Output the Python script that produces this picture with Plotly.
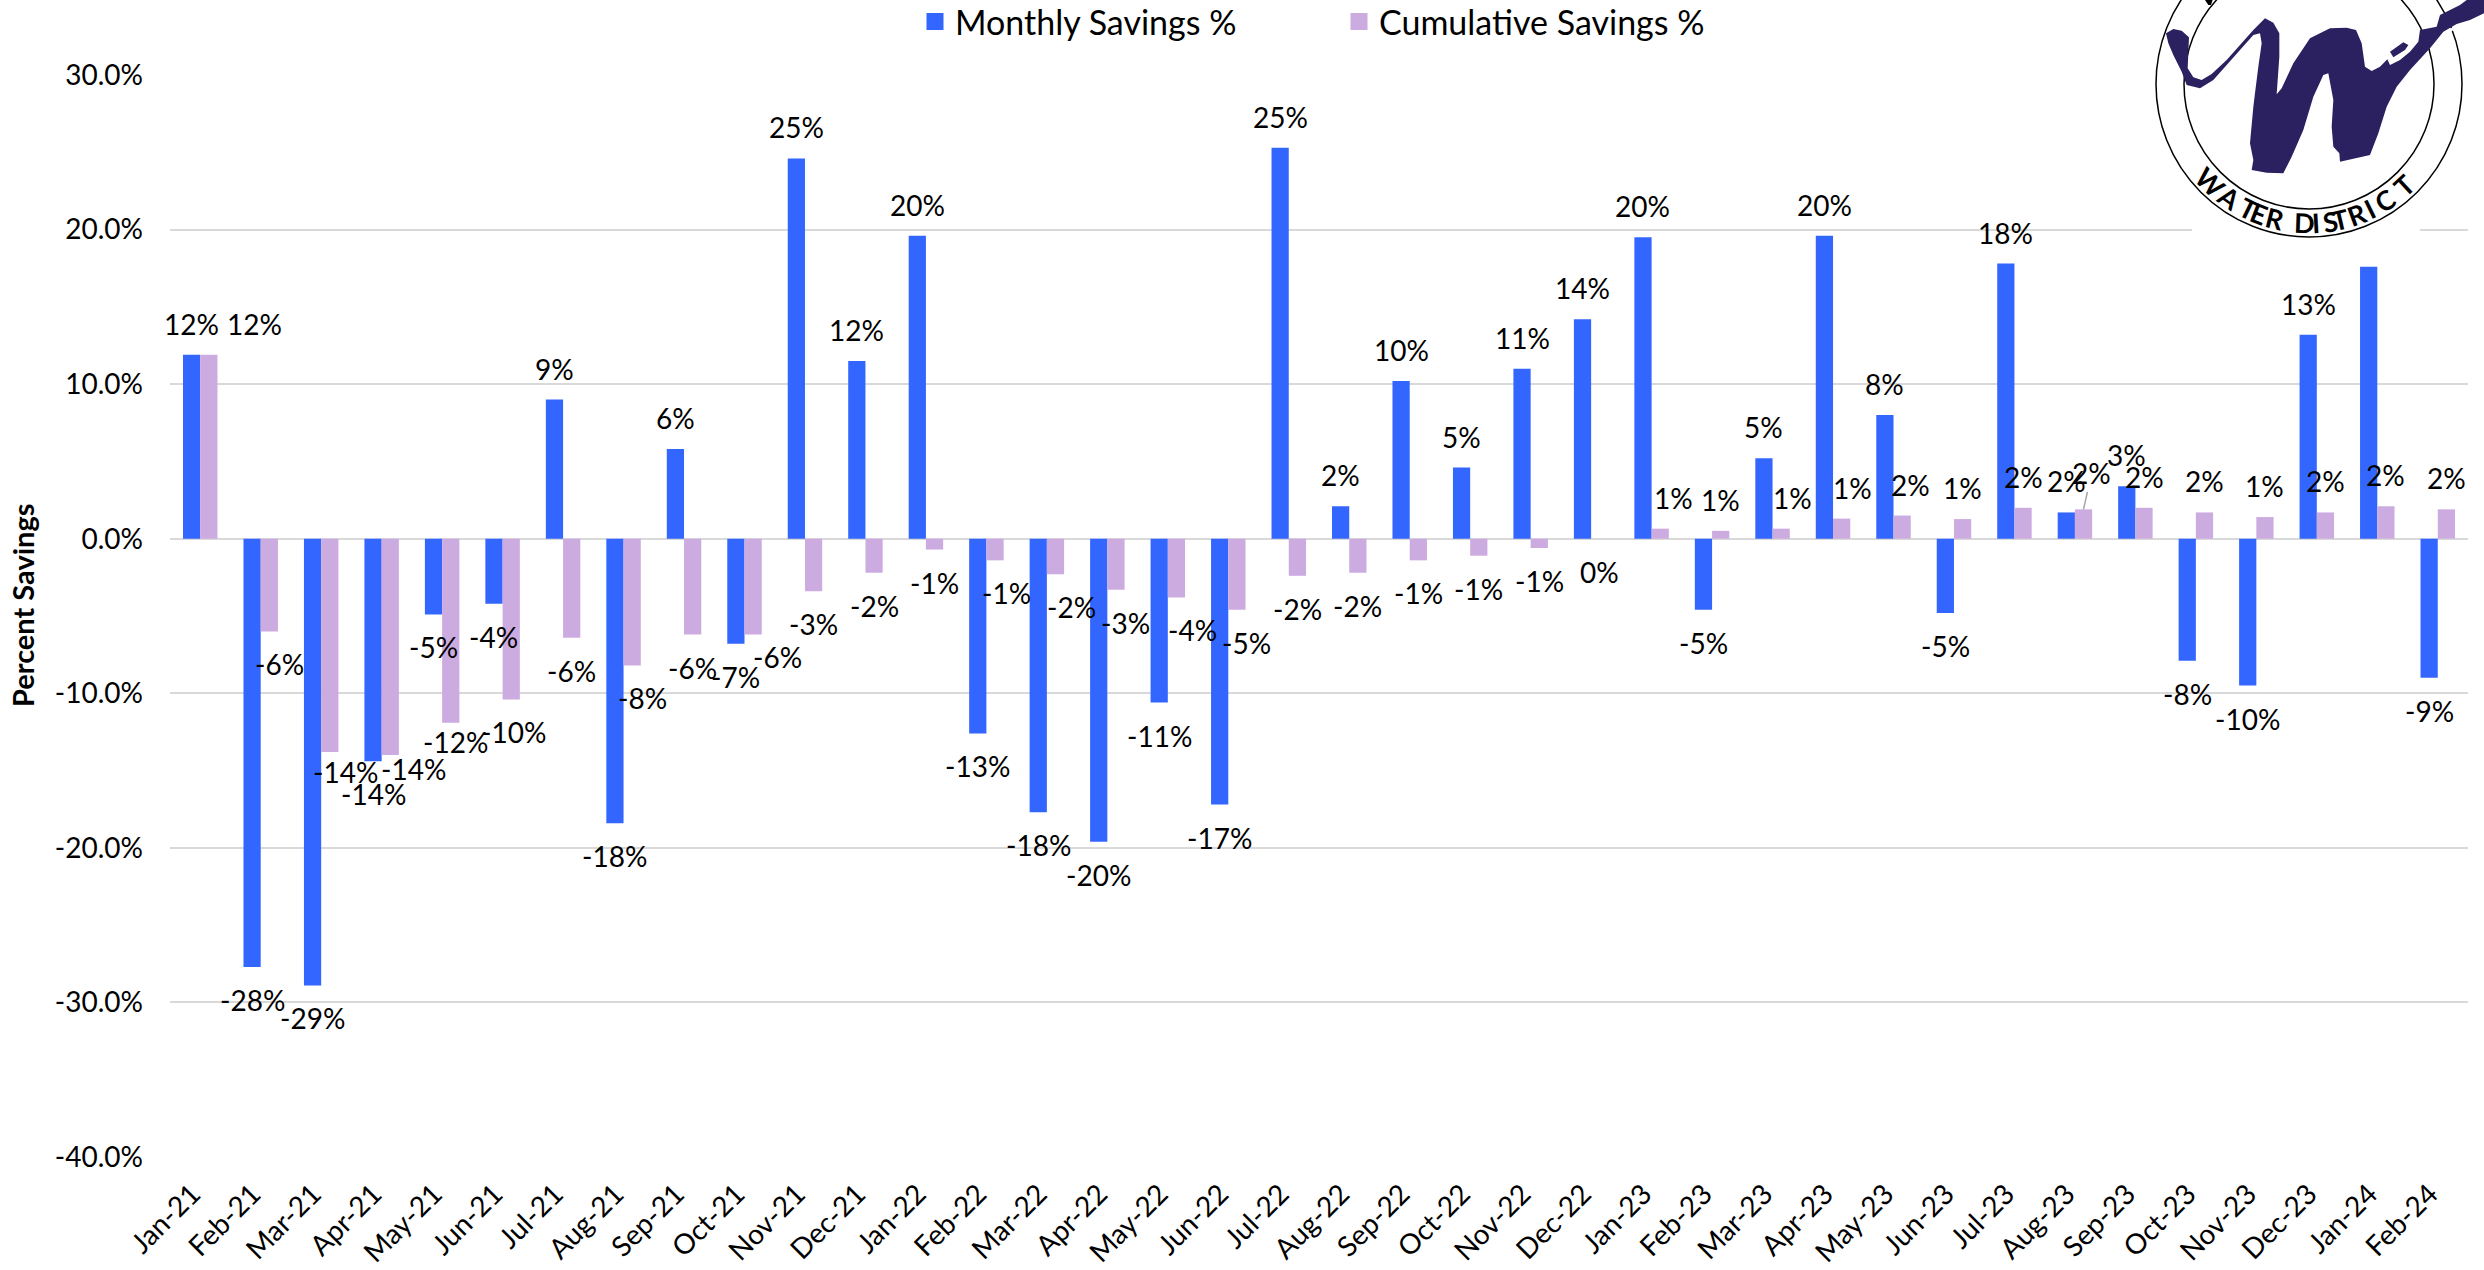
import math
import plotly.graph_objects as go

W, H = 2484, 1270
L, R, T, B = 170, 2468, 75, 1157

months = ["Jan-21","Feb-21","Mar-21","Apr-21","May-21","Jun-21","Jul-21","Aug-21","Sep-21","Oct-21","Nov-21","Dec-21",
          "Jan-22","Feb-22","Mar-22","Apr-22","May-22","Jun-22","Jul-22","Aug-22","Sep-22","Oct-22","Nov-22","Dec-22",
          "Jan-23","Feb-23","Mar-23","Apr-23","May-23","Jun-23","Jul-23","Aug-23","Sep-23","Oct-23","Nov-23","Dec-23",
          "Jan-24","Feb-24"]
monthly = [11.9,-27.7,-28.9,-14.4,-4.9,-4.2,9.0,-18.4,5.8,-6.8,24.6,11.5,
           19.6,-12.6,-17.7,-19.6,-10.6,-17.2,25.3,2.1,10.2,4.6,11.0,14.2,
           19.5,-4.6,5.2,19.6,8.0,-4.8,17.8,1.7,3.4,-7.9,-9.5,13.2,
           17.6,-9.0]
cumulative = [11.9,-6.0,-13.8,-14.0,-11.9,-10.4,-6.4,-8.2,-6.2,-6.2,-3.4,-2.2,
              -0.7,-1.4,-2.3,-3.3,-3.8,-4.6,-2.4,-2.2,-1.4,-1.1,-0.6,0.0,
              0.65,0.51,0.65,1.3,1.5,1.27,2.0,1.9,2.0,1.7,1.4,1.7,
              2.1,1.9]
yticks = [30,20,10,0,-10,-20,-30,-40]
ytick_labels = ["30.0%","20.0%","10.0%","0.0%","-10.0%","-20.0%","-30.0%","-40.0%"]
no_values = [None] * len(months)

BLUE, LILAC, INK, NAVY = "#3366FF", "#CCABE0", "#000000", "#2B2060"
FONT = "Lato"
SIZE = 28

def fmt(v):
    return f"{round(v):d}%"

fig = go.Figure()
fig.add_bar(name="Monthly Savings %", x=months, y=monthly, showlegend=False, offsetgroup="m",
            marker=dict(color=BLUE, line=dict(width=0)))
fig.add_bar(name="Cumulative Savings %", x=months, y=cumulative, showlegend=False, offsetgroup="c",
            marker=dict(color=LILAC, line=dict(width=0)))
# legend keys: empty twins in the same slots, so the swatches can be drawn larger than the default
fig.add_bar(name="Monthly Savings %", x=months, y=no_values, offsetgroup="m", marker=dict(color=BLUE, line=dict(width=5, color=BLUE)))
fig.add_bar(name="Cumulative Savings %", x=months, y=no_values, offsetgroup="c", marker=dict(color=LILAC, line=dict(width=5, color=LILAC)))

# hand-placed label nudges (px) relative to the default outside-end spot
nudge = {
    ("c", 0): (46, 0),
    ("c", 1): (10, 0),
    ("c", 2): (16, -13),
    ("c", 3): (23, -19),
    ("c", 4): (5, -14),
    ("c", 5): (2, 0),
    ("c", 7): (10, 0),
    ("c", 9): (24, -11),
    ("c", 13): (11, 0),
    ("c", 14): (16, 0),
    ("c", 15): (10, 0),
    ("c", 16): (16, 0),
    ("c", 17): (10, 0),
    ("c", 24): (13, 0),
    ("c", 26): (11, 0),
    ("c", 27): (11, 0),
    ("c", 28): (8, 0),
}
hidden = {("m", months.index("Jan-24"))}  # sits behind the logo's white backing in the reference
SLOT = (R - L) / 38 * 0.285
ann = []
for key, vals in (("m", monthly), ("c", cumulative)):
    for i, v in enumerate(vals):
        if (key, i) in hidden:
            continue
        dx, dy = nudge.get((key, i), (0, 0))
        base = -31 if v > 0 else 33
        off = -SLOT * 0.5 if key == "m" else SLOT * 0.5
        item = dict(x=months[i], y=v, xref="x", yref="y", text=fmt(v), showarrow=False,
                    xshift=off + dx, yshift=-(base + dy), xanchor="center", yanchor="middle",
                    font=dict(family=FONT, size=SIZE, color=INK))
        # Aug-23 cumulative label sits off its bar with a leader line
        if key == "c" and months[i] == "Aug-23":
            item.update(showarrow=True, arrowhead=0, arrowwidth=1.5, arrowcolor="#A6A6A6", ax=8, ay=-36,
                        axref="pixel", ayref="pixel", xshift=off, yshift=0)
        ann.append(item)

ann.append(dict(text="Percent Savings", xref="paper", yref="paper", x=(22 - L) / (R - L), y=(B - 605) / (B - T),
                showarrow=False, textangle=-90, xanchor="center", yanchor="middle",
                font=dict(family=FONT, size=29, color=INK, weight="bold")))

def px(x, y):
    return (x - L) / (R - L), (B - y) / (B - T)

def rect(x0, y0, x1, y1):
    a, b = px(x0, y0)
    c, d = px(x1, y1)
    return dict(type="rect", xref="paper", yref="paper", x0=a, y0=b, x1=c, y1=d,
                fillcolor="white", line=dict(width=0), layer="above")

def circle(cx, cy, r):
    a, b = px(cx - r, cy + r)
    c, d = px(cx + r, cy - r)
    return dict(type="circle", xref="paper", yref="paper", x0=a, y0=b, x1=c, y1=d,
                line=dict(color="black", width=1.5), layer="above")

def crop(points, ox, scale=3):
    return [(ox + x / scale, y / scale) for x, y in points]

def traced(outline, fill):
    pts = [px(x, y) for x, y in outline]
    return dict(type="path", path="M" + "L".join(f"{x:.5f},{y:.5f}" for x, y in pts) + "Z",
                xref="paper", yref="paper", fillcolor=fill, line=dict(width=0), layer="above")

LEFT, MID, RIGHT = 2150, 2100, 2330
w_upper_left = [(48,100),(70,87),(95,92),(117,112),(115,160),(113,205),(130,232),(155,240),(185,222),(230,180),(270,135),
                (310,90),(345,55),(370,68),(388,100),(388,170),(380,283),(395,265),(430,190),(480,115)]
w_coast = [(0,85),(50,83),(78,90),(95,130),(105,200),(125,213),(150,200),(172,178),(180,195),(210,180),(240,155),(265,125),
           (270,90),(320,80),(330,45),(390,15),(410,0),(462,0),(462,40),(420,60),(380,72),(340,95),(300,145),(240,210),
           (200,260),(170,320)]
w_bottom = [(835,400),(810,465),(720,485),(718,460),(700,440),(695,380),(700,300),(685,220),(670,225),(640,290),(610,390),
            (575,470),(550,520),(500,518),(455,510),(460,480),(450,430),(460,320)]
w_lower_left = [(315,280),(325,200),(335,130),(330,100),(310,105),(270,150),(230,195),(190,240),(150,265),(110,255),(95,215),
                (70,165),(55,130)]
w_outline = crop(w_upper_left, LEFT) + crop(w_coast, RIGHT) + crop(w_bottom, MID) + crop(w_lower_left, LEFT)
island = crop([(180,155),(220,127),(235,135),(225,150),(190,172)], RIGHT)
lagoon = crop([(355,88),(380,78),(380,85),(362,95)], RIGHT)
top_letter = crop([(165,0),(188,0),(183,15),(175,15)], LEFT)

shapes = [
    rect(2140, 0, 2484, 200),
    rect(2192, 200, 2420, 256),
    circle(2309, 84, 153),
    circle(2309, 84, 125),
    traced(w_outline, NAVY),
    traced(island, NAVY),
    traced(lagoon, "white"),
    traced(top_letter, "black"),
]

# "WATER DISTRICT" set letter by letter along the ring
ring = "WATERDISTRICT"
angles = [-45,-35,-26,-21,-14,-2,3,9,13,20,26,33,43]
for ch, deg in zip(ring, angles):
    t = math.radians(deg)
    x, y = px(2309 + 139 * math.sin(t), 84 + 139 * math.cos(t))
    ann.append(dict(text=ch, xref="paper", yref="paper", x=x, y=y, showarrow=False, textangle=-deg,
                    xanchor="center", yanchor="middle", font=dict(family=FONT, size=27, color="black", weight="bold")))

fig.update_layout(
    width=W, height=H, autosize=False,
    margin=dict(l=L, r=W - R, t=T, b=H - B, pad=0),
    paper_bgcolor="white", plot_bgcolor="white",
    barmode="group", bargap=0.43, bargroupgap=0,
    font=dict(family=FONT, size=SIZE, color=INK),
    showlegend=True,
    legend=dict(orientation="h", xref="container", yref="container", x=915 / W, y=1 - 22 / H, xanchor="left", yanchor="middle",
                font=dict(family=FONT, size=34), entrywidth=379, entrywidthmode="pixels",
                bgcolor="rgba(0,0,0,0)", itemclick=False, itemdoubleclick=False),
    annotations=ann, shapes=shapes,
    xaxis=dict(type="category", categoryorder="array", categoryarray=months, range=[-0.5, 37.5], autorange=False,
               tickangle=-45, ticks="", showgrid=False,
               showline=False, zeroline=False, tickfont=dict(family=FONT, size=SIZE), automargin=False,
               ticklabelstandoff=14, ticklabelshift=-8),
    yaxis=dict(range=[-40, 30], autorange=False, tickvals=yticks, ticktext=ytick_labels, showgrid=True, gridcolor="#D9D9D9", gridwidth=2,
               zeroline=True, zerolinecolor="#D9D9D9", zerolinewidth=2, ticks="", showline=False,
               tickfont=dict(family=FONT, size=SIZE), automargin=False, ticklabelstandoff=26),
)

fig.write_html("out.html", config=dict(displayModeBar=False),
               post_script="document.body.style.margin='0';document.documentElement.style.overflow='hidden';")
